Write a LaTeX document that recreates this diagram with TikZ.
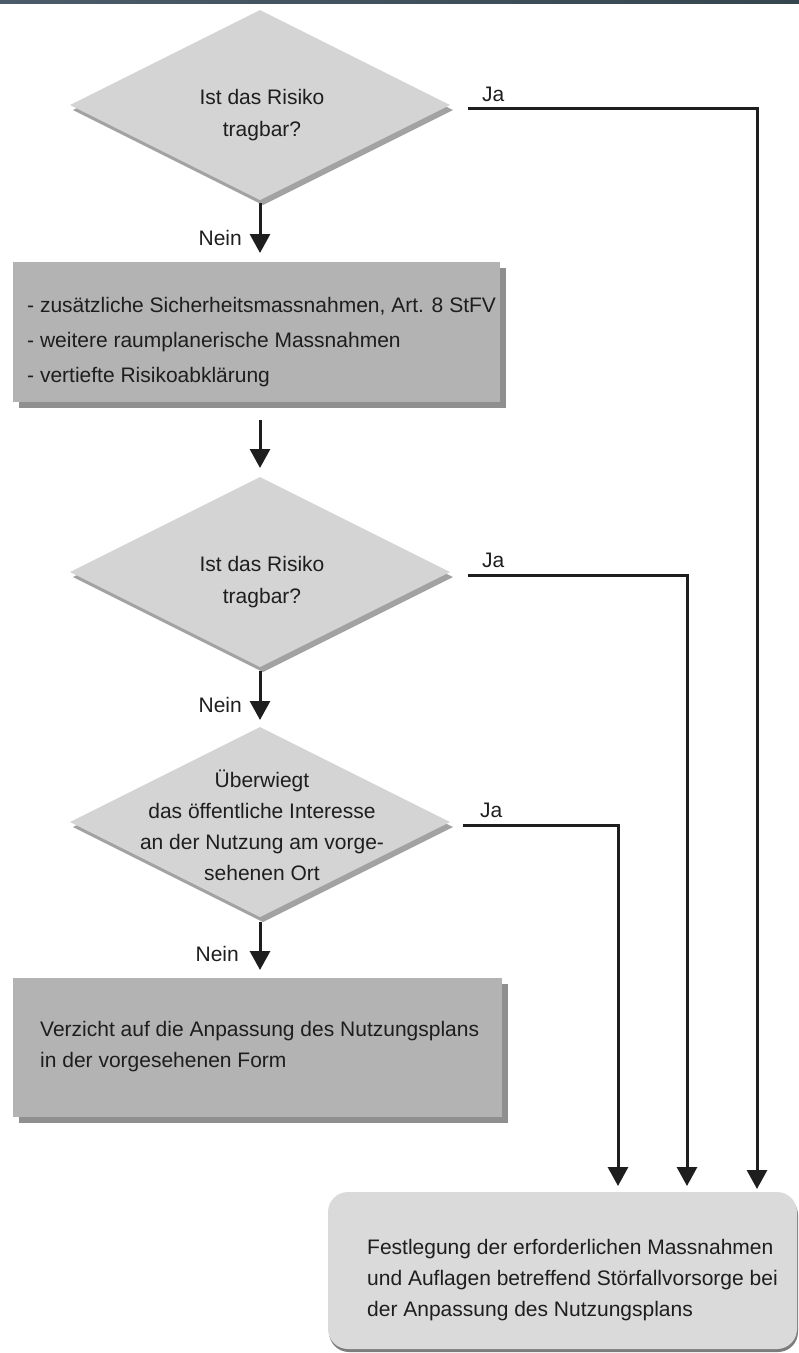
\documentclass[tikz,border=0pt]{standalone}
\usepackage{fontspec}
\setmainfont{Liberation Sans}
\usetikzlibrary{arrows.meta,shapes.geometric,shadows}
\definecolor{diafill}{HTML}{D4D4D4}
\definecolor{diashadow}{HTML}{A2A2A2}
\definecolor{boxfill}{HTML}{B3B3B3}
\definecolor{boxshadow}{HTML}{8F8F8F}
\definecolor{finfill}{HTML}{DADADA}
\definecolor{finshadow}{HTML}{7C7C7C}
\definecolor{ink}{HTML}{1E1E1E}
\definecolor{barleft}{HTML}{4B5B69}
\definecolor{barright}{HTML}{36464F}
\begin{document}
\begin{tikzpicture}[x=1pt,y=-1pt,
  every node/.style={font=\fontsize{21}{31}\selectfont, text=ink},
  dia/.style={shape=diamond, minimum width=380pt, minimum height=190pt, inner sep=0pt, outer sep=0pt,
    fill=diafill, draw=none, drop shadow={shadow xshift=3pt, shadow yshift=-5pt, fill=diashadow, opacity=1}},
  procbox/.style={shape=rectangle, inner sep=0pt, outer sep=0pt, anchor=north west, fill=boxfill, draw=none,
    drop shadow={shadow xshift=6pt, shadow yshift=-6pt, fill=boxshadow, opacity=1}},
  finbox/.style={shape=rectangle, rounded corners=20pt, inner sep=0pt, outer sep=0pt, anchor=north west, fill=finfill, draw=none,
    drop shadow={shadow xshift=1pt, shadow yshift=-3pt, fill=finshadow, opacity=1}},
  txt/.style={inner sep=0pt, align=left, anchor=base west},
  dtxt/.style={inner sep=0pt, align=center, anchor=base},
  lbl/.style={inner sep=0pt},
  conn/.style={line width=3pt, draw=ink, line join=miter, -{Triangle[width=20pt,length=19pt]}}
]
\useasboundingbox (0,0) rectangle (799,1353);
\fill[left color=barleft, right color=barright] (0,0) rectangle (799,3);

% shapes
\node[dia] (d1) at (260,105) {};
\node[procbox, minimum width=487pt, minimum height=140pt] (b1) at (13,262) {};
\node[dia] (d2) at (260,572) {};
\node[dia] (d3) at (260,822) {};
\node[procbox, minimum width=489pt, minimum height=139pt] (b2) at (13,978) {};
\node[finbox, minimum width=469pt, minimum height=157pt] (fin) at (328,1192) {};

% texts (anchor = baseline of the last line)
\node[dtxt, font=\fontsize{21}{32}\selectfont] (t1) at (262,136) {Ist das Risiko\\tragbar?};
\node[txt, font=\fontsize{21}{35}\selectfont] (tb1) at (27,382) {- zusätzliche Sicherheitsmassnahmen, Art. 8 StFV\\- weitere raumplanerische Massnahmen\\- vertiefte Risikoabklärung};
\node[dtxt, font=\fontsize{21}{32}\selectfont] (t2) at (262,603) {Ist das Risiko\\tragbar?};
\node[dtxt, font=\fontsize{21}{31}\selectfont] (t3) at (262,880) {Überwiegt\\das öffentliche Interesse\\an der Nutzung am vorge-\\sehenen Ort};
\node[txt, font=\fontsize{21}{31}\selectfont] (tb2) at (40,1067) {Verzicht auf die Anpassung des Nutzungsplans\\in der vorgesehenen Form};
\node[txt, font=\fontsize{21}{31}\selectfont] (tf) at (367,1316) {Festlegung der erforderlichen Massnahmen\\und Auflagen betreffend Störfallvorsorge bei\\der Anpassung des Nutzungsplans};

% labels
\node[lbl, anchor=base east] (n1) at (242,245) {Nein};
\node[lbl, anchor=base east] (n2) at (242,712) {Nein};
\node[lbl, anchor=base east] (n3) at (239,961) {Nein};
\node[lbl, anchor=base west] (j1) at (482,101) {Ja};
\node[lbl, anchor=base west] (j2) at (482,567) {Ja};
\node[lbl, anchor=base west] (j3) at (480,817) {Ja};

% connectors
\draw[conn, shorten <=3pt, shorten >=9pt] (d1.south) -- (d1.south |- b1.north);
\draw[conn, shorten <=18pt, shorten >=9pt] (d2.north |- b1.south) -- (d2.north);
\draw[conn, shorten <=4pt, shorten >=7pt] (d2.south) -- (d3.north);
\draw[conn, shorten <=5pt, shorten >=8pt] (d3.south) -- (d3.south |- b2.north);
\draw[conn, shorten >=3pt] ([shift={(18,3)}]d1.east) -| ([xshift=429pt]fin.north west);
\draw[conn, shorten >=6pt] ([shift={(18,3)}]d2.east) -| ([xshift=359pt]fin.north west);
\draw[conn, shorten >=6pt] ([shift={(13,3)}]d3.east) -| ([xshift=290pt]fin.north west);
\end{tikzpicture}
\end{document}
